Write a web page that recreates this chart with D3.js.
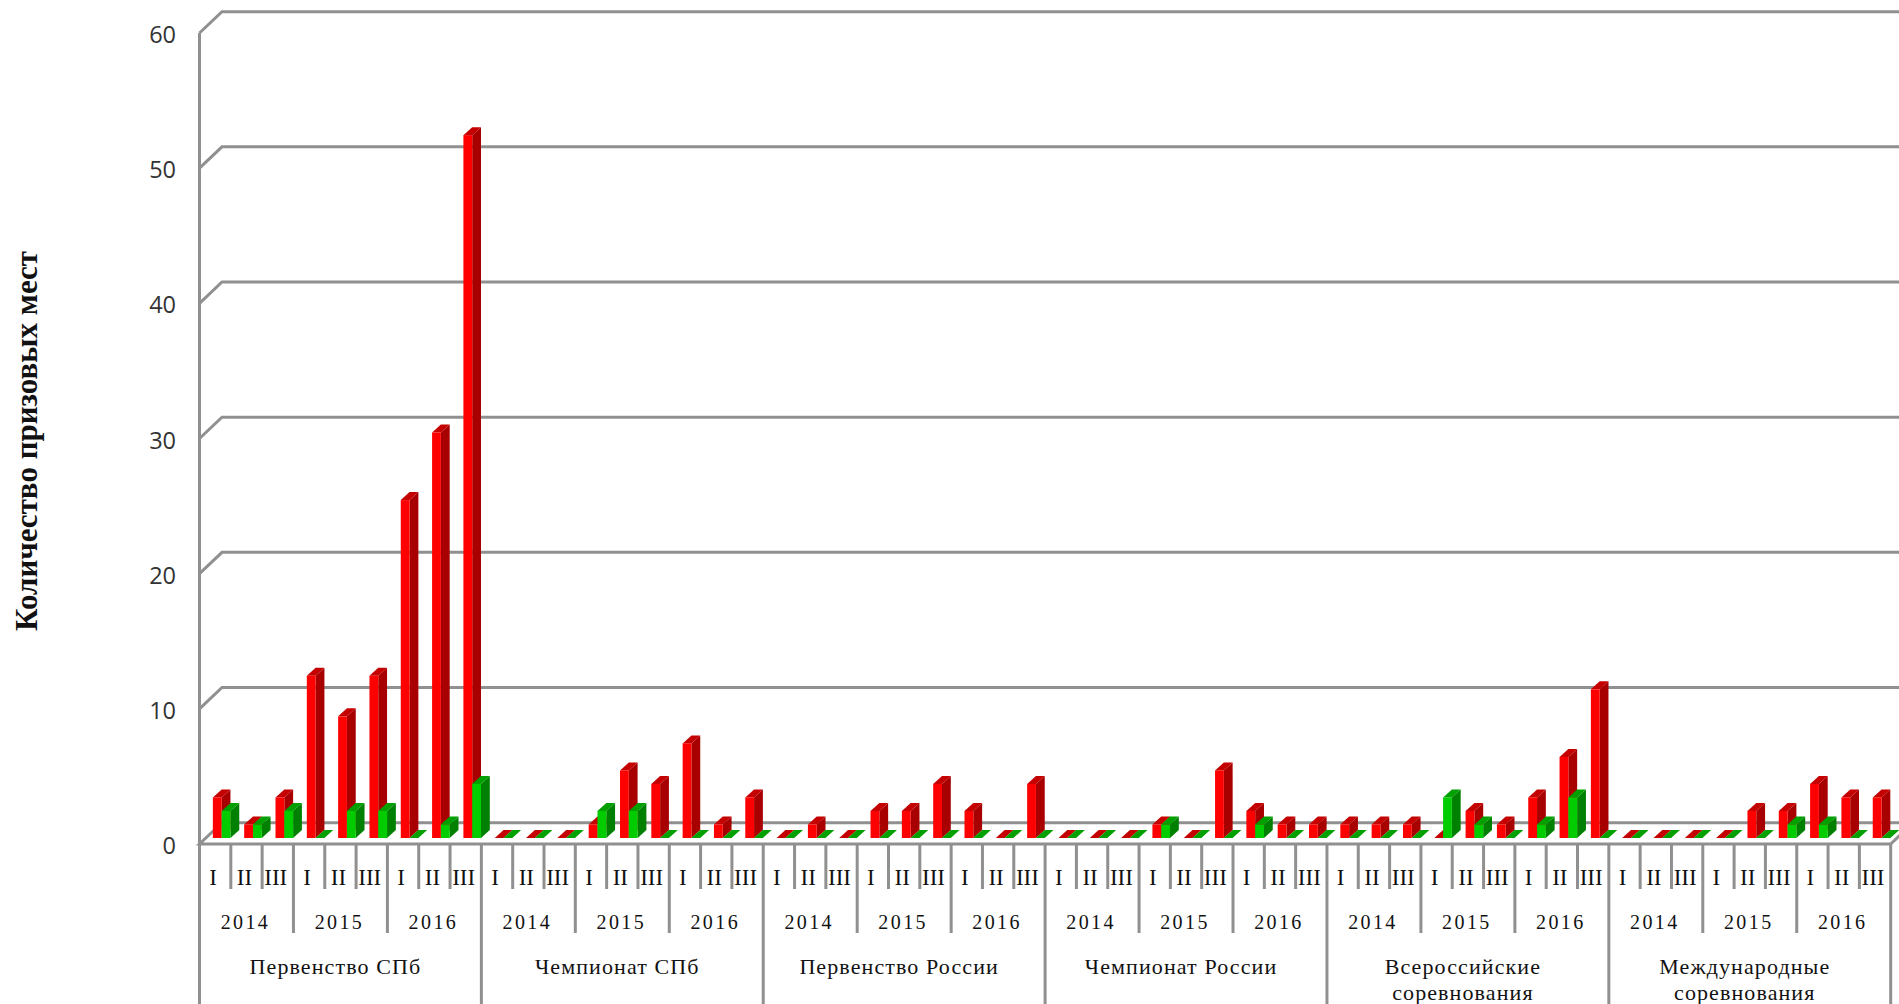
<!DOCTYPE html>
<html>
<head>
<meta charset="utf-8">
<script src="https://cdn.jsdelivr.net/npm/d3@7"></script>
<style>
  html, body { margin: 0; padding: 0; background: #fff; overflow: hidden; }
  .tick-y text { font-family: "Open Sans", sans-serif; font-size: 23.5px; fill: #333; }
  .lbl { font-family: "Liberation Serif", serif; font-size: 20px; fill: #111; text-anchor: middle; }
  .lbl-place { font-size: 23px; }
  .lbl-year { letter-spacing: 2.4px; }
  .lbl-group { font-size: 22px; letter-spacing: 1.1px; }
  .wall { fill: none; stroke: #909090; stroke-width: 3; }
  .sep { stroke: #909090; stroke-width: 3; }
</style>
</head>
<body>
<svg id="chart" width="1899" height="1004"></svg>
<script>
const groups = [
  ["Первенство СПб"],
  ["Чемпионат СПб"],
  ["Первенство России"],
  ["Чемпионат России"],
  ["Всероссийские", "соревнования"],
  ["Международные", "соревнования"]
];
const years = ["2014", "2015", "2016"];
const places = ["I", "II", "III"];
const yTicks = [0, 10, 20, 30, 40, 50, 60];
const yTitle = "Количество призовых мест";

// one value per place, in order group > year > place
const redValues = [
  3, 1, 3, 12, 9, 12, 25, 30, 52,
  0, 0, 0, 1, 5, 4, 7, 1, 3,
  0, 1, 0, 2, 2, 4, 2, 0, 4,
  0, 0, 0, 1, 0, 5, 2, 1, 1,
  1, 1, 1, 0, 2, 1, 3, 6, 11,
  0, 0, 0, 0, 2, 2, 4, 3, 3
];
const greenValues = [
  2, 1, 2, 0, 2, 2, 0, 1, 4,
  0, 0, 0, 2, 2, 0, 0, 0, 0,
  0, 0, 0, 0, 0, 0, 0, 0, 0,
  0, 0, 0, 1, 0, 0, 1, 0, 0,
  0, 0, 0, 3, 1, 0, 1, 3, 0,
  0, 0, 0, 0, 0, 1, 1, 0, 0
];

const colors = {
  red: { front: "#ff0000", top: "#c40000", side: "#a80000" },
  green: { front: "#00cc00", top: "#00a000", side: "#008000" }
};

const svg = d3.select("#chart");

const plotLeft = 199.5, plotRight = 1890.7, plotBase = 844, plotTop = 33;
const floor = { dx: 22.5, dy: 21.3 };   // oblique offset of the back wall
const inset = { dx: 6.5, dy: 6 };       // bars stand a little behind the front edge
const depth = { dx: 8.8, dy: 8 };       // depth of a single bar

const x = d3.scaleBand().domain(d3.range(redValues.length)).range([plotLeft, plotRight]);
const barW = 8.8;
const xSeries = d3.scaleBand().domain(["red", "green"]).range([0, barW * 2]);
const y = d3.scaleLinear().domain([0, 60]).range([plotBase, plotTop]);

// walls
yTicks.forEach(t => {
  if (t === 0) return;
  svg.append("path").attr("class", "wall")
    .attr("d", d3.line()([
      [plotLeft, y(t)],
      [plotLeft + floor.dx, y(t) - floor.dy],
      [1899 + 30, y(t) - floor.dy]
    ]));
});
svg.append("path").attr("class", "wall")
  .attr("d", d3.line()([
    [plotRight, plotBase],
    [plotLeft, plotBase],
    [plotLeft + floor.dx, plotBase - floor.dy],
    [1899 + 30, plotBase - floor.dy]
  ]));
svg.append("path").attr("class", "wall")
  .attr("d", d3.line()([[plotRight, plotBase], [plotRight + floor.dx, plotBase - floor.dy]]));
svg.append("line").attr("class", "sep")
  .attr("x1", plotLeft).attr("x2", plotLeft).attr("y1", plotTop).attr("y2", plotBase);

// y axis
const yAxis = d3.axisLeft(y).tickValues(yTicks).tickSize(0).tickPadding(0);
const gy = svg.append("g").attr("class", "tick-y")
  .attr("transform", "translate(176,2)")
  .call(yAxis);
gy.select(".domain").remove();

svg.append("text")
  .attr("transform", "translate(37,441)rotate(-90)")
  .attr("text-anchor", "middle")
  .attr("font-family", "Liberation Serif, serif")
  .attr("font-weight", "bold")
  .attr("font-size", 31)
  .attr("fill", "#111")
  .text(yTitle);

// bars
function drawBar(g, cat, name, value) {
  const c = colors[name];
  const x0 = x(cat) + (x.bandwidth() - barW * 2) / 2 + inset.dx + xSeries(name);
  const x1 = x0 + xSeries.bandwidth();
  const yb = y(0) - inset.dy;
  const yt = y(value) - inset.dy;
  const dx = depth.dx, dy = depth.dy;

  g.append("polygon").attr("fill", c.side)
    .attr("points", [[x1, yb], [x1 + dx, yb - dy], [x1 + dx, yt - dy], [x1, yt]].join(" "));
  g.append("polygon").attr("fill", c.top)
    .attr("points", [[x0, yt], [x1, yt], [x1 + dx, yt - dy], [x0 + dx, yt - dy]].join(" "));
  if (value > 0) {
    g.append("rect").attr("fill", c.front)
      .attr("x", x0).attr("y", yt)
      .attr("width", x1 - x0).attr("height", yb - yt);
  }
}

const bars = svg.append("g").attr("class", "bars");
redValues.forEach((v, i) => {
  drawBar(bars, i, "red", v);
  drawBar(bars, i, "green", greenValues[i]);
});

// multi level category axis
const perYear = places.length, perGroup = places.length * years.length;
const nCats = redValues.length;
const edge = i => (i === nCats ? plotRight : x(i));

d3.range(nCats + 1).forEach(i => {
  let end = 889;
  if (i % perYear === 0) end = 933;
  if (i % perGroup === 0) end = 1010;
  svg.append("line").attr("class", "sep")
    .attr("x1", edge(i)).attr("x2", edge(i))
    .attr("y1", plotBase).attr("y2", end);
});

d3.range(nCats).forEach(i => {
  svg.append("text").attr("class", "lbl lbl-place")
    .attr("x", x(i) + x.bandwidth() / 2 - 2)
    .attr("y", 885)
    .text(places[i % perYear]);
});

d3.range(nCats / perYear).forEach(i => {
  const i0 = i * perYear;
  svg.append("text").attr("class", "lbl lbl-year")
    .attr("x", (edge(i0) + edge(i0 + perYear)) / 2 - 1)
    .attr("y", 929)
    .text(years[i % years.length]);
});

groups.forEach((lines, i) => {
  const i0 = i * perGroup;
  lines.forEach((line, k) => {
    svg.append("text").attr("class", "lbl lbl-group")
      .attr("x", (edge(i0) + edge(i0 + perGroup)) / 2 - 5)
      .attr("y", 974 + k * 26)
      .text(line);
  });
});
</script>
</body>
</html>
